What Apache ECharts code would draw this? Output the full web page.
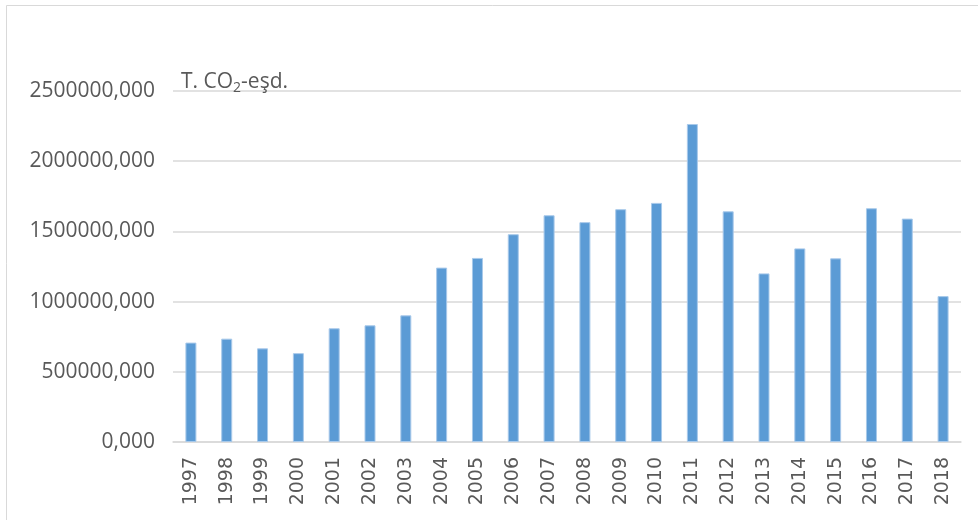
<!DOCTYPE html>
<html>
<head>
<meta charset="utf-8">
<script src="https://cdn.jsdelivr.net/npm/echarts@6/dist/echarts.min.js"></script>
<style>
  html, body { margin: 0; padding: 0; background: #fff; }
  #chart { width: 978px; height: 520px; }
</style>
</head>
<body>
<div id="chart"></div>
<script>
// Annual emissions, tonnes CO2-equivalent
const years = ['1997','1998','1999','2000','2001','2002','2003','2004','2005','2006','2007',
               '2008','2009','2010','2011','2012','2013','2014','2015','2016','2017','2018'];
const emissions = [708000, 736000, 667000, 633000, 810000, 831000, 902000, 1242000, 1311000,
                   1480000, 1615000, 1566000, 1658000, 1703000, 2265000, 1643000, 1201000,
                   1379000, 1308000, 1665000, 1591000, 1039000];
const unitLabel = ['T. CO', '2', '-eşd.'];

const chart = echarts.init(document.getElementById('chart'), null, { renderer: 'canvas' });

chart.setOption({
  animation: false,
  backgroundColor: '#ffffff',
  graphic: [{
    type: 'rect',
    shape: { x: 6.5, y: 5.5, width: 990, height: 540 },
    style: { fill: 'none', stroke: '#d9d9d9', lineWidth: 1 },
    silent: true
  }],
  title: {
    left: 176,
    top: 64,
    text: '{a|' + unitLabel[0] + '}{s|' + unitLabel[1] + '}{a|' + unitLabel[2] + '}',
    textStyle: {
      fontWeight: 'normal',
      rich: {
        a: { fontFamily: 'Open Sans', fontSize: 21, fontWeight: 'normal', color: '#595959' },
        s: { fontFamily: 'Open Sans', fontSize: 14, fontWeight: 'normal', color: '#595959', padding: [12, 0, 0, 0] }
      }
    }
  },
  grid: { left: 173, right: 17, top: 91, bottom: 78, containLabel: false },
  xAxis: {
    type: 'category',
    data: years,
    axisLine: { show: true, lineStyle: { color: '#d9d9d9', width: 1.5 } },
    axisTick: { show: false },
    axisLabel: {
      rotate: 90,
      margin: 15,
      interval: 0,
      fontFamily: 'DejaVu Sans',
      fontSize: 19,
      color: '#595959'
    }
  },
  yAxis: {
    type: 'value',
    min: 0,
    max: 2500000,
    interval: 500000,
    axisLine: { show: false },
    axisTick: { show: false },
    splitLine: { lineStyle: { color: '#d9d9d9', width: 1.5 } },
    axisLabel: {
      margin: 18,
      fontFamily: 'Open Sans',
      fontSize: 21,
      color: '#595959',
      formatter: v => v + ',000'
    }
  },
  series: [{
    type: 'bar',
    data: emissions,
    barWidth: 11,
    itemStyle: { color: '#5b9bd5', borderColor: '#a8c9ea', borderWidth: 1 }
  }]
});
</script>
</body>
</html>
